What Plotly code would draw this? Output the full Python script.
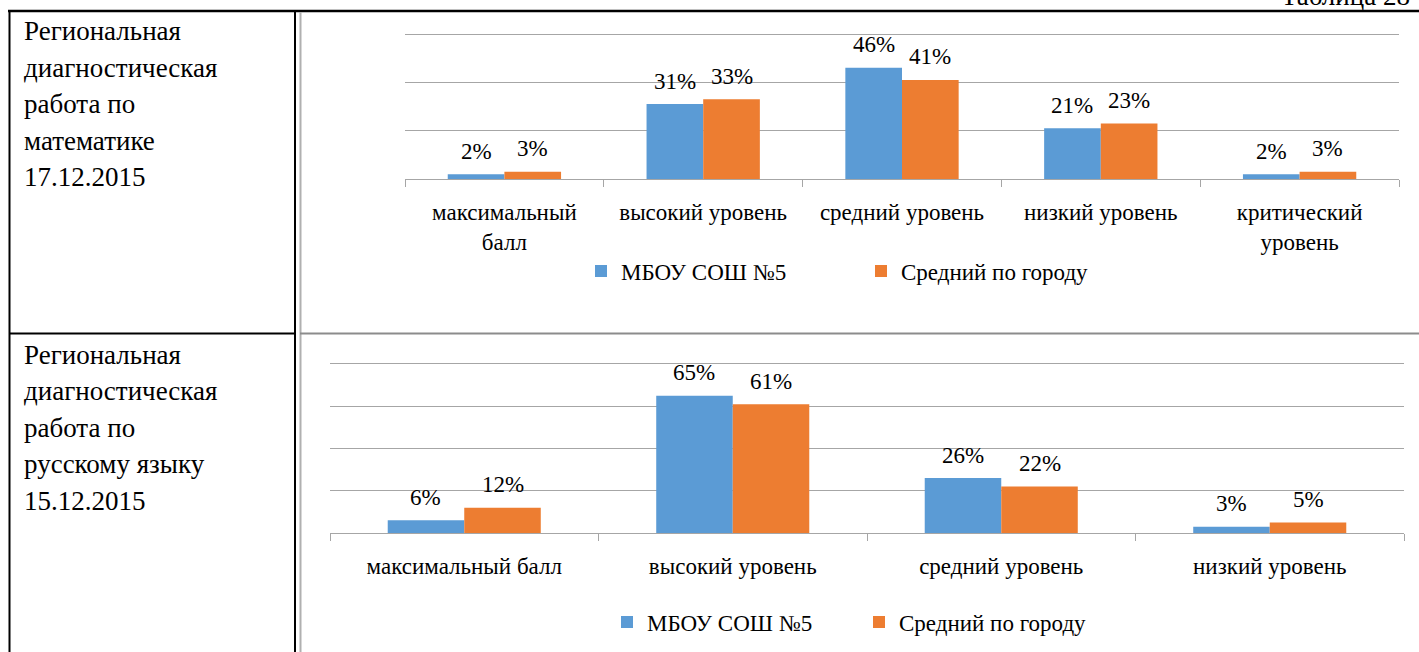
import plotly.graph_objects as go

W, H = 1419, 652

# ---- data ----
cats_math = ["максимальный<br>балл", "высокий уровень", "средний уровень", "низкий уровень", "критический<br>уровень"]
school_math = [2, 31, 46, 21, 2]
city_math = [3, 33, 41, 23, 3]

cats_rus = ["максимальный балл", "высокий уровень", "средний уровень", "низкий уровень"]
school_rus = [6, 65, 26, 3]
city_rus = [12, 61, 22, 5]

series_names = ["МБОУ СОШ №5", "Средний по городу"]
colors = ["#5B9BD5", "#ED7D31"]

title_math = ["Региональная", "диагностическая", "работа по", "математике", "17.12.2015"]
title_rus = ["Региональная", "диагностическая", "работа по", "русскому языку", "15.12.2015"]
table_caption = "Таблица 28"

FONT = "Liberation Serif"
FS = 23
BARGAP = 0.43

def px(x):
    return x / W

def py(y):
    return 1 - y / H

fig = go.Figure()

for name, vals, col in zip(series_names, [school_math, city_math], colors):
    fig.add_trace(go.Bar(x=cats_math, y=vals, name=name, marker_color=col, marker_line_width=0,
                         xaxis="x", yaxis="y", legend="legend", hoverinfo="skip"))
for name, vals, col in zip(series_names, [school_rus, city_rus], colors):
    fig.add_trace(go.Bar(x=cats_rus, y=vals, name=name, marker_color=col, marker_line_width=0,
                         xaxis="x2", yaxis="y2", legend="legend2", hoverinfo="skip"))

grid = "#a6a6a6"
xcommon = dict(showline=True, linecolor=grid, linewidth=1, ticks="outside", tickson="boundaries",
               ticklen=7, tickcolor=grid, tickfont=dict(family=FONT, size=FS, color="black"),
               ticklabelstandoff=12, showgrid=False, zeroline=False, fixedrange=True)
ycommon = dict(showgrid=True, gridcolor=grid, gridwidth=1, showticklabels=False, zeroline=False,
               dtick=20, tick0=0, ticks="", showline=False, fixedrange=True)

top1, bot1, ymax1 = 34, 179, 60
top2, bot2, ymax2 = 364, 533, 80
ext1 = ymax1 + 1
ext2 = ymax2 + 1
dtop1 = bot1 - (bot1 - top1) * ext1 / ymax1
dtop2 = bot2 - (bot2 - top2) * ext2 / ymax2

fig.update_layout(
    width=W, height=H, autosize=False,
    margin=dict(l=0, r=0, t=0, b=0),
    paper_bgcolor="white", plot_bgcolor="white",
    barmode="group", bargap=BARGAP, bargroupgap=0,
    font=dict(family=FONT, size=FS, color="black"),
    xaxis=dict(domain=[px(405), px(1399)], anchor="y", **xcommon),
    yaxis=dict(domain=[py(bot1), py(dtop1)], anchor="x", range=[0, ext1], **ycommon),
    xaxis2=dict(domain=[px(330), px(1404)], anchor="y2", **xcommon),
    yaxis2=dict(domain=[py(bot2), py(dtop2)], anchor="x2", range=[0, ext2], **ycommon),
    legend=dict(orientation="h", x=px(581), y=py(271), xanchor="left", yanchor="middle",
                font=dict(family=FONT, size=FS, color="black"), bgcolor="rgba(0,0,0,0)",
                itemsizing="constant", entrywidth=235),
    legend2=dict(orientation="h", x=px(607), y=py(622), xanchor="left", yanchor="middle",
                 font=dict(family=FONT, size=FS, color="black"), bgcolor="rgba(0,0,0,0)",
                 itemsizing="constant", entrywidth=207),
    showlegend=True,
)

shapes = []
shapes.append(dict(type="line", xref="paper", yref="paper", x0=px(8), x1=1, y0=py(11), y1=py(11),
                   line=dict(color="black", width=2.5)))
shapes.append(dict(type="line", xref="paper", yref="paper", x0=px(9.5), x1=px(9.5), y0=py(10), y1=0,
                   line=dict(color="black", width=2)))
shapes.append(dict(type="line", xref="paper", yref="paper", x0=px(295), x1=px(295), y0=py(10), y1=0,
                   line=dict(color="black", width=2)))
shapes.append(dict(type="line", xref="paper", yref="paper", x0=px(300.5), x1=px(300.5), y0=py(12), y1=0,
                   line=dict(color="#b0b0b0", width=2)))
shapes.append(dict(type="line", xref="paper", yref="paper", x0=px(9), x1=px(295), y0=py(333.5), y1=py(333.5),
                   line=dict(color="black", width=2)))
shapes.append(dict(type="line", xref="paper", yref="paper", x0=px(300), x1=1, y0=py(333.5), y1=py(333.5),
                   line=dict(color="#8c8c8c", width=2)))
fig.update_layout(shapes=shapes)

ann = []
for i, t in enumerate(title_math):
    ann.append(dict(text=t, xref="paper", yref="paper", x=px(22), y=py(31 + i * 36.6),
                    xanchor="left", yanchor="middle", showarrow=False,
                    font=dict(family=FONT, size=27, color="black")))
for i, t in enumerate(title_rus):
    ann.append(dict(text=t, xref="paper", yref="paper", x=px(22), y=py(355 + i * 36.4),
                    xanchor="left", yanchor="middle", showarrow=False,
                    font=dict(family=FONT, size=27, color="black")))
ann.append(dict(text=table_caption, xref="paper", yref="paper", x=px(1412), y=py(-4),
                xanchor="right", yanchor="middle", showarrow=False,
                font=dict(family=FONT, size=27, color="black")))

# data labels above bars (placed on the category axes' own scale)
half = (1 - BARGAP) / 4
for xr, yr, series in (("x", "y", [school_math, city_math]), ("x2", "y2", [school_rus, city_rus])):
    for k, vals in enumerate(series):
        off = -half if k == 0 else half
        for i, v in enumerate(vals):
            ann.append(dict(text=f"{v}%", xref=xr, yref=yr, x=i + off, y=v,
                            xanchor="center", yanchor="middle", yshift=23, showarrow=False,
                            font=dict(family=FONT, size=FS, color="black")))
fig.update_layout(annotations=ann)

fig.write_html("out.html", config={"displayModeBar": False},
               post_script="document.body.style.margin='0';document.body.style.overflow='hidden';")
